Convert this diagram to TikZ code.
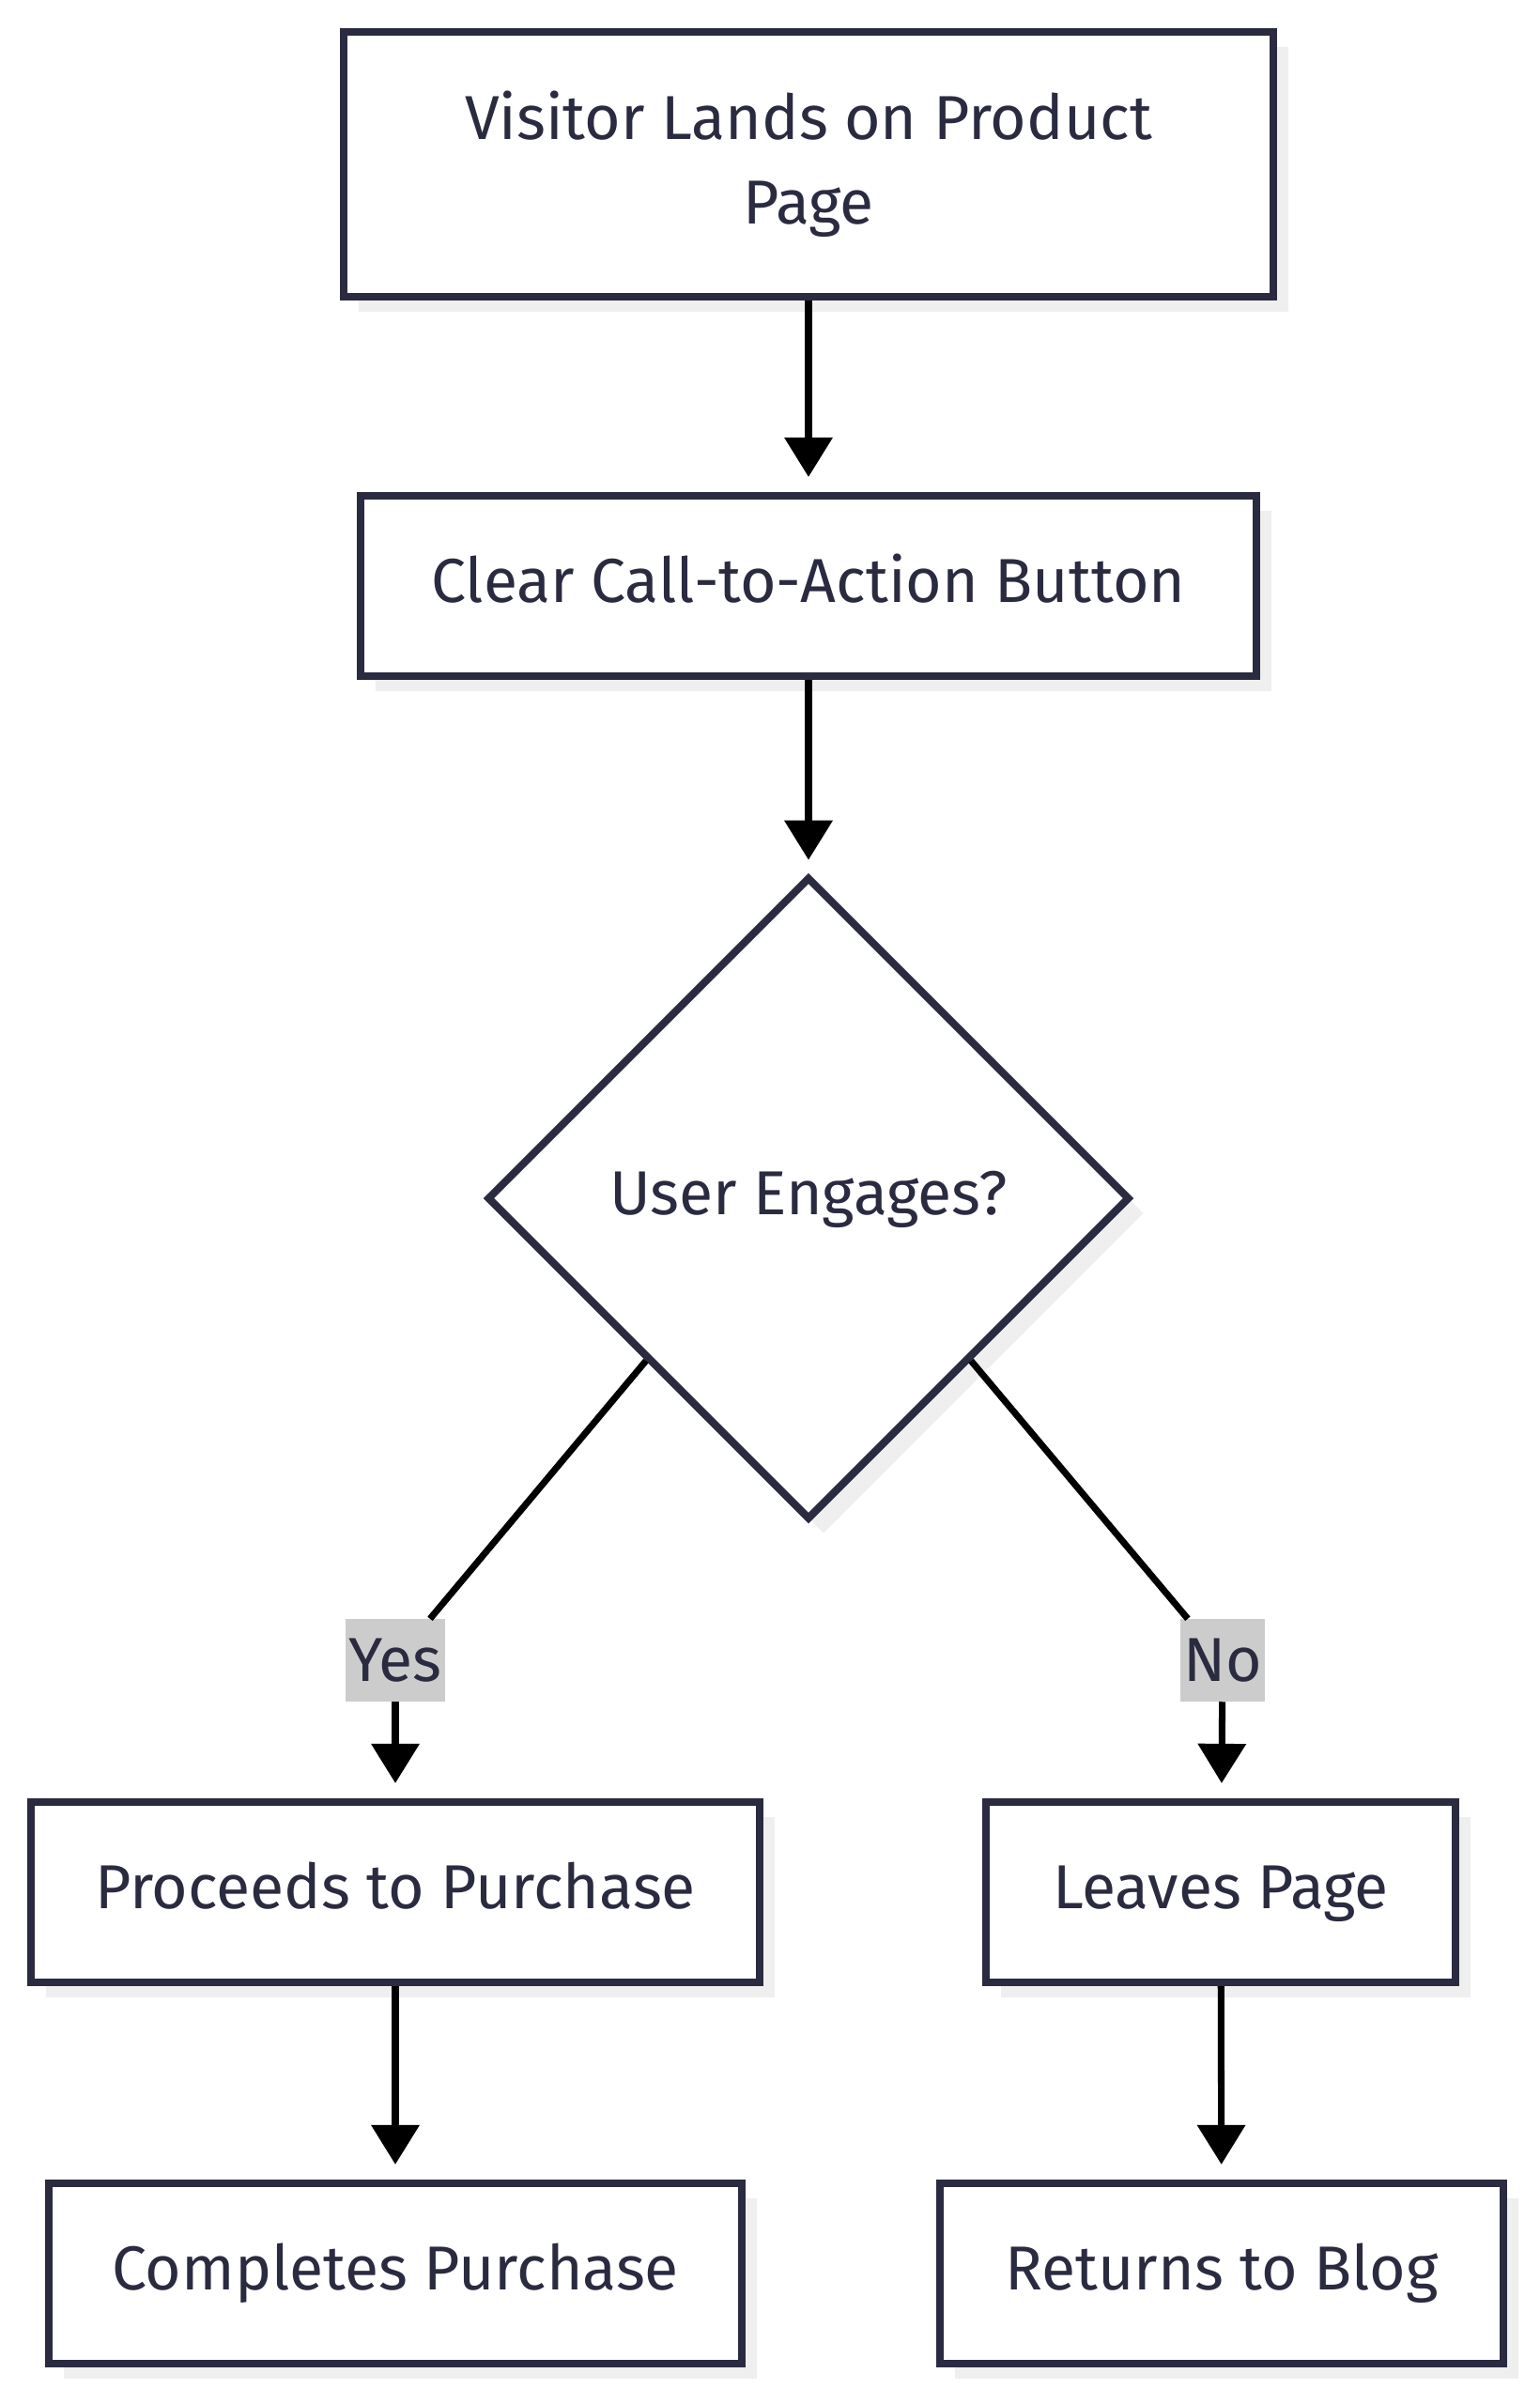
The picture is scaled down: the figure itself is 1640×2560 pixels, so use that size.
\documentclass[tikz,border=0pt]{standalone}
\usepackage{fontspec}
\setmainfont{Fira Sans}
\usetikzlibrary{arrows.meta,shapes.geometric,shadows}
\definecolor{ink}{HTML}{2A2A40}
\definecolor{shade}{HTML}{EFEFEF}
\definecolor{tagfill}{HTML}{CCCCCC}
\newcommand{\flowfont}{\fontsize{18.8}{25.6}\selectfont}
\tikzset{>={Triangle[length=0.42cm,width=0.5cm]}}
\tikzset{
  box/.style={draw=ink, line width=2.3pt, fill=white, text=ink, align=center,
    minimum height=1.92cm, font=\flowfont,
    drop shadow={shadow xshift=0.16cm, shadow yshift=-0.16cm, fill=shade, opacity=1}},
  oneline/.style={box, text height=1.12em, text depth=0.1em},
  decide/.style={oneline, shape=diamond, aspect=1, inner sep=0pt,
    minimum width=6.84cm, minimum height=6.84cm},
  flow/.style={draw=black, line width=2pt},
  tag/.style={fill=tagfill, text=ink, font=\flowfont, inner xsep=1pt,
    minimum height=0.87cm}
}

\begin{document}
\begin{tikzpicture}[x=0.01cm, y=-0.01cm]
    \useasboundingbox (0,0) rectangle (1640,2560);

    % main column
    \node[box, minimum width=9.9cm, minimum height=2.82cm] (land) at (861,175) {Visitor Lands on Product\\Page};
    \node[oneline, minimum width=9.54cm] (cta) at (861,624) {Clear Call-to-Action Button};
    \node[decide] (engage) at (861,1276) {User Engages?};

    % yes branch
    \node[oneline, minimum width=7.76cm] (buy) at (421,2015) {Proceeds to Purchase};
    \node[oneline, minimum width=7.37cm] (done) at (421,2421) {Completes Purchase};

    % no branch
    \node[oneline, minimum width=5cm] (leave) at (1300,2015) {Leaves Page};
    \node[oneline, minimum width=6cm] (blog) at (1301,2421) {Returns to Blog};

    % edge labels
    \node[tag] (yes) at (421,1768) {Yes};
    \node[tag] (no) at (1302,1768) {No};

    % edges
    \draw[flow, ->, shorten >=0.16cm] (land) -- (cta);
    \draw[flow, ->, shorten >=0.14cm] (cta) -- (engage);
    \draw[flow] (engage.south west) -- (yes);
    \draw[flow, ->, shorten >=0.16cm] (yes) -- (buy);
    \draw[flow] (engage.south east) -- (no);
    \draw[flow, ->, shorten >=0.16cm] (no) -- (leave);
    \draw[flow, ->, shorten >=0.16cm] (buy) -- (done);
    \draw[flow, ->, shorten >=0.16cm] (leave) -- (blog);
\end{tikzpicture}
\end{document}
